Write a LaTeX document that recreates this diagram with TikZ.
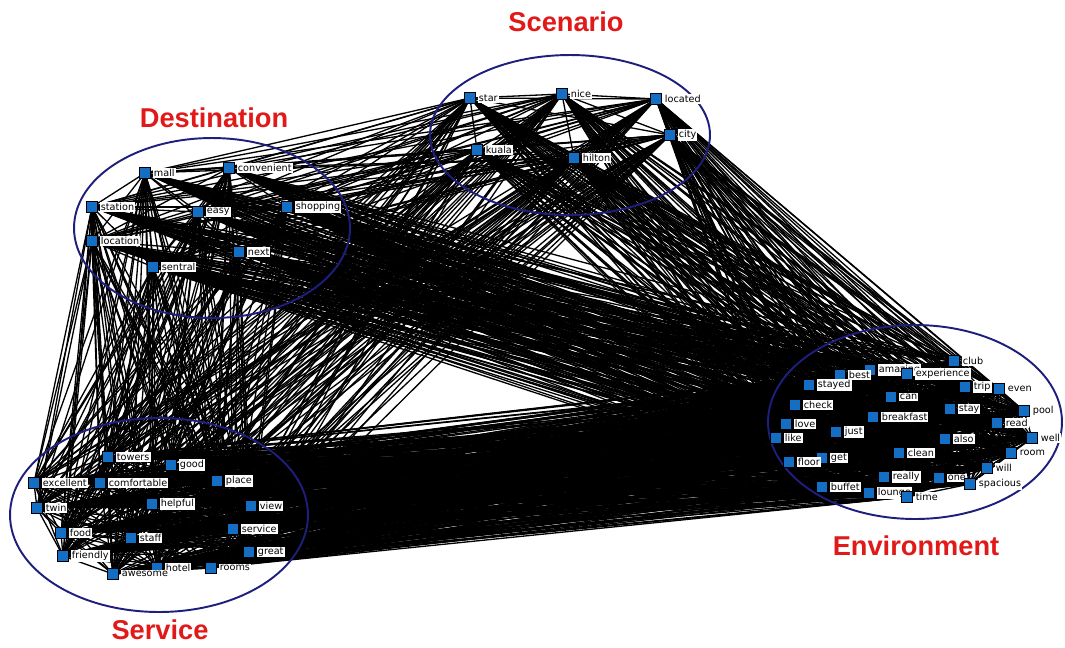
\documentclass[tikz,border=0pt]{standalone}
\usepackage{fontspec}
\newfontfamily\wordfont{DejaVu Sans}
\newfontfamily\titlefont{Liberation Sans}
\usetikzlibrary{backgrounds}

\definecolor{nodeblue}{RGB}{20,110,195}
\definecolor{ringblue}{RGB}{30,30,125}
\definecolor{titlered}{RGB}{225,25,25}

\tikzset{
    word/.style={draw=black,line width=0.3pt,fill=nodeblue,minimum size=0.22cm,inner sep=0pt},
    wordtag/.style={fill=white,inner sep=0.6pt,anchor=west,font=\wordfont\fontsize{5.5}{6}\selectfont},
    link/.style={black,line width=0.75pt},
    ring/.style={draw=ringblue,line width=1.1pt},
    cluster/.style={text=titlered,font=\titlefont\bfseries\fontsize{15.5}{18}\selectfont}
}

\newcommand{\wordlist}{star,nice,located,city,kuala,hilton,
    mall,convenient,station,easy,shopping,location,next,sentral,
    towers,good,excellent,comfortable,place,twin,helpful,view,food,staff,service,friendly,great,hotel,awesome,rooms,
    amazing,experience,club,best,stayed,trip,even,can,check,stay,pool,breakfast,read,love,just,like,well,also,
    clean,room,get,floor,will,really,one,spacious,buffet,lounge,time}

\begin{document}
\begin{tikzpicture}[x=0.02cm,y=-0.02cm]
    \useasboundingbox (0,0) rectangle (1065,647);
    % words: name/x/y
    \foreach \n/\x/\y in {star/470/98,nice/562/94,located/656/99,city/670/135,kuala/477/150,hilton/574/158,
        mall/145/173,convenient/229/168,station/92/207,easy/198/212,shopping/287/207,location/92/241,next/239/252,sentral/153/267,
        towers/108/457,good/171/465,excellent/34/483,comfortable/100/483,place/217/481,twin/37/508,helpful/152/504,view/251/506,
        food/61/533,staff/131/538,service/233/529,friendly/63/556,great/249/552,hotel/157/568,awesome/113/574,rooms/211/568,
        amazing/870/370,experience/907/374,club/954/361,best/840/375,stayed/809/385,trip/965/387,even/999/389,can/891/397,
        check/795/405,stay/950/409,pool/1024/411,breakfast/873/417,read/997/423,love/786/424,just/836/432,like/776/438,
        well/1032/438,also/945/439,clean/899/453,room/1011/453,get/822/458,floor/789/462,will/987/468,really/884/477,
        one/939/478,spacious/970/484,buffet/822/487,lounge/869/493,time/907/497}{
        \node[word] (\n) at (\x,\y) {};
        \node[wordtag] (\n-tag) at ([xshift=1pt]\n.east) {\n};
    }
    % co-occurrence links
    \begin{scope}[on background layer]
        \foreach \a [count=\i] in \wordlist {
            \foreach \b [count=\j] in \wordlist {
                \ifnum\j>\i \draw[link] (\a) -- (\b); \fi
            }
        }
    \end{scope}
    \begin{scope}[on background layer]
        \draw[ring] (570,135) ellipse [x radius=2.8cm,y radius=1.6cm];
        \draw[ring] (212,228) ellipse [x radius=2.76cm,y radius=1.8cm];
        \draw[ring] (159,515) ellipse [x radius=2.98cm,y radius=1.94cm];
        \draw[ring] (915,422) ellipse [x radius=2.94cm,y radius=1.94cm];
    \end{scope}
    \node[cluster] (scenario) at (566,22) {Scenario};
    \node[cluster] (destination) at (214,118) {Destination};
    \node[cluster] (servicetitle) at (160,630) {Service};
    \node[cluster] (environment) at (916,546) {Environment};
\end{tikzpicture}
\end{document}
